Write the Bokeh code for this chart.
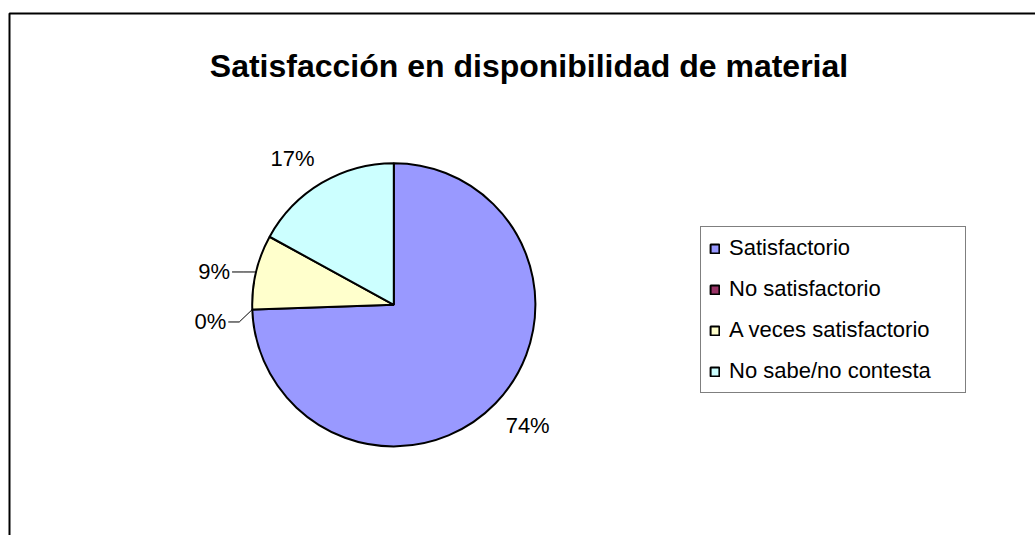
import numpy as np
from bokeh.plotting import figure
from bokeh.models import ColumnDataSource, Range1d, Label
from bokeh.core.properties import value
from bokeh.embed import file_html
from bokeh.resources import INLINE

# ---- data ----
categories = ["Satisfactorio", "No satisfactorio", "A veces satisfactorio", "No sabe/no contesta"]
counts = [35, 0, 4, 8]
colors = ["#9999FF", "#993366", "#FFFFCC", "#CCFFFF"]
title_text = "Satisfacción en disponibilidad de material"

FONT = "Liberation Sans"
W, H = 1035, 535

p = figure(width=W, height=H, x_range=Range1d(0, W), y_range=Range1d(0, H),
           output_backend="svg", toolbar_location=None, min_border=0,
           outline_line_color=None, background_fill_color="white",
           border_fill_color="white")
p.axis.visible = False
p.grid.visible = False

# chart area border (left and top edges visible in the reference)
p.line(x=[9, 9, W + 20], y=[-20, 522, 522], line_color="black", line_width=2)

# ---- pie ----
cx, cy, R = 393.3, 230.7, 141.6
fr = np.array(counts, dtype=float) / sum(counts)
cum = np.concatenate([[0.0], np.cumsum(fr)])
start = np.pi / 2 - 2 * np.pi * cum[:-1]
end = np.pi / 2 - 2 * np.pi * cum[1:]
mid = (start + end) / 2
pct = [f"{int(round(f * 100))}%" for f in fr]
radius = [R if n > 0 else 0.0 for n in counts]

src = ColumnDataSource(dict(cat=categories, start=start, end=end, color=colors, r=radius))
p.wedge(x=cx, y=cy, radius="r", start_angle="start", end_angle="end",
        direction="clock", fill_color="color", line_color="black",
        line_width=2, source=src, legend_field="cat")

# ---- data labels ----
small = []
for i in range(len(categories)):
    c, s = np.cos(mid[i]), np.sin(mid[i])
    if fr[i] >= 0.1:
        d = R + 14
        p.text(x=[cx + d * c], y=[cy + d * s], text=[pct[i]],
               text_align="left" if c > 0 else "right",
               text_baseline="top" if s < 0 else "bottom",
               text_font=value(FONT), text_font_size="22px", text_color="black")
    else:
        small.append((cy + R * s, cx + R * c, i))

small.sort(reverse=True)  # top first
prev = None
for ay, ax, i in small:
    ly = ay
    if prev is not None and prev - ly < 50:
        ly = prev - 50
    prev = ly
    lx = ax - 26
    p.text(x=[lx], y=[ly], text=[pct[i]], text_align="right",
           text_baseline="middle", text_font=value(FONT),
           text_font_size="22px", text_color="black")
    p.line(x=[lx + 2, ax - 13, ax], y=[ly, ly, ay],
           line_color="black", line_width=1)

# ---- title ----
p.add_layout(Label(x=528.5, y=470, text=title_text, text_align="center",
                   text_baseline="alphabetic", text_font=FONT,
                   text_font_style="bold", text_font_size="32px",
                   text_color="black"))

# ---- legend ----
leg = p.legend[0]
leg.location = (700, 142)
leg.margin = 0
leg.padding = 8
leg.spacing = 15
leg.label_standoff = 9
leg.glyph_width = 11
leg.glyph_height = 11
leg.label_height = 21
leg.label_width = 228
leg.border_line_color = "black"
leg.border_line_width = 1
leg.background_fill_color = "white"
leg.background_fill_alpha = 1.0
leg.label_text_font = FONT
leg.label_text_font_size = "22px"
leg.label_text_color = "black"

open("out.html", "w").write(file_html(p, INLINE))
